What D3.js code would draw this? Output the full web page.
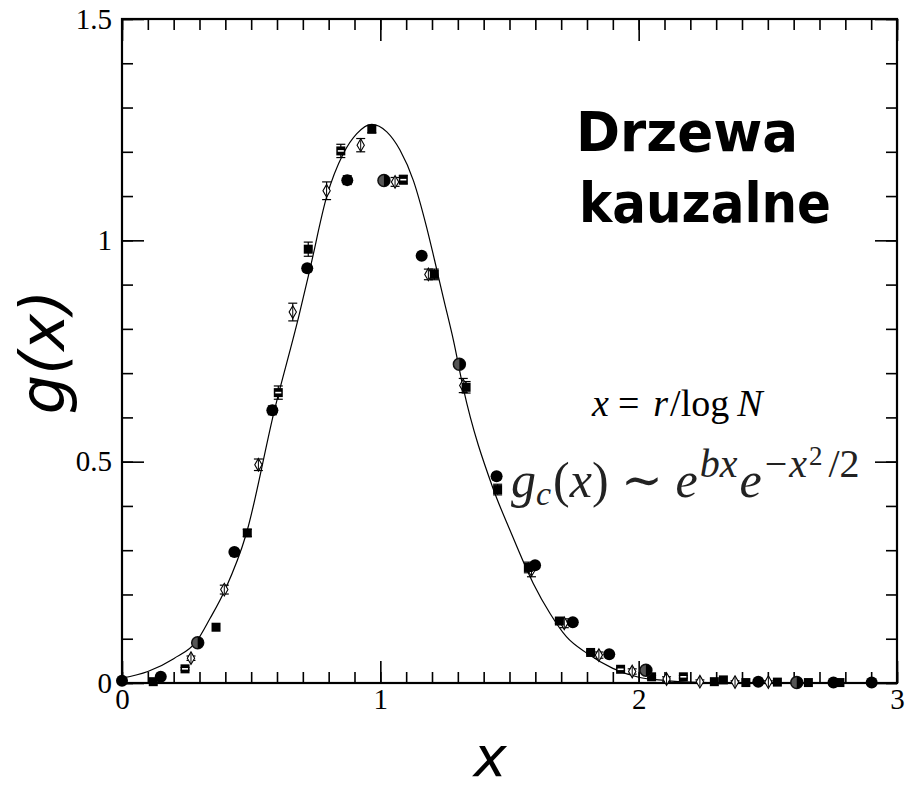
<!DOCTYPE html>
<html>
<head>
<meta charset="utf-8">
<script src="https://cdn.jsdelivr.net/npm/d3@7"></script>
<style>
  html, body { margin: 0; padding: 0; background: #fff; }
  svg { display: block; }
</style>
</head>
<body>
<svg id="chart" width="915" height="790"></svg>
<script>
// Measured distribution g(x) for causal trees, x = r / log N, with the scaling curve.

// Filled circles
const circX = [0.0, 0.15, 0.435, 0.582, 0.717, 0.872, 1.16, 1.45, 1.599, 1.745, 1.886, 2.463, 2.754, 2.902];
const circY = [0.005, 0.014, 0.296, 0.616, 0.937, 1.136, 0.965, 0.467, 0.266, 0.137, 0.065, 0.003, 0.001, 0.001];
const circE = [0, 0, 0.006, 0.01, 0.008, 0.01, 0.006, 0.008, 0.006, 0.004, 0.003, 0, 0, 0];

// Half-shaded circles
const halfX = [0.293, 1.014, 1.306, 2.028, 2.612];
const halfY = [0.091, 1.135, 0.72, 0.029, 0.001];
const halfE = [0.005, 0.006, 0.006, 0.004, 0];

// Filled squares
const sqX = [0.121, 0.364, 0.485, 0.721, 0.967, 1.209, 1.332, 1.454, 1.573, 1.693, 1.814, 2.05, 2.293, 2.328, 2.415, 2.537, 2.657, 2.779];
const sqY = [0.003, 0.126, 0.339, 0.98, 1.251, 0.923, 0.668, 0.437, 0.261, 0.14, 0.069, 0.014, 0.003, 0.007, 0.001, 0.002, 0.001, 0.001];
const sqE = [0, 0, 0.008, 0.016, 0.008, 0.012, 0.013, 0.012, 0.012, 0.005, 0.003, 0.003, 0, 0, 0, 0, 0, 0];

// Squares with a white band
const bandX = [0.244, 0.605, 0.847, 1.089, 1.93, 2.173];
const bandY = [0.032, 0.656, 1.202, 1.137, 0.031, 0.014];
const bandE = [0.003, 0.015, 0.015, 0.01, 0.003, 0.003];

// Open diamonds
const diaX = [0.267, 0.396, 0.528, 0.661, 0.792, 0.924, 1.057, 1.186, 1.321, 1.585, 1.712, 1.846, 1.975, 2.108, 2.237, 2.373, 2.502];
const diaY = [0.056, 0.211, 0.493, 0.838, 1.112, 1.215, 1.132, 0.923, 0.672, 0.255, 0.135, 0.063, 0.026, 0.009, 0.003, 0.002, 0.002];
const diaE = [0.005, 0.01, 0.013, 0.02, 0.02, 0.015, 0.01, 0.012, 0.016, 0.015, 0.01, 0.007, 0.006, 0.005, 0.004, 0.003, 0.003];

// Scaling curve g_c(x)
const curveX = [0.0, 0.1, 0.2, 0.29, 0.34, 0.4, 0.48, 0.59, 0.685, 0.728, 0.792, 0.857, 0.909, 0.967, 1.025, 1.076, 1.128, 1.179, 1.21, 1.244, 1.283, 1.321, 1.436, 1.502, 1.592, 1.657, 1.721, 1.8, 1.9, 2.0, 2.1, 2.2, 2.4, 2.7, 3.0];
const curveY = [0.011, 0.026, 0.055, 0.095, 0.145, 0.212, 0.335, 0.616, 0.83, 0.936, 1.098, 1.196, 1.241, 1.262, 1.245, 1.204, 1.135, 1.03, 0.955, 0.87, 0.774, 0.666, 0.44, 0.345, 0.225, 0.157, 0.104, 0.067, 0.033, 0.013, 0.006, 0.002, 0.0, 0.0, 0.0];

// Tick values
const xMajor = [0, 1, 2, 3];
const yMajor = [0, 0.5, 1, 1.5];
const xMinor = d3.range(0, 31).map(i => i / 10);
const yMinor = d3.range(0, 16).map(i => i / 10);

const svg = d3.select("#chart");
const x = d3.scaleLinear().domain([0, 3]).range([122, 897]);
const y = d3.scaleLinear().domain([0, 1.5]).range([683, 19]);

const serif = "'Liberation Serif', 'DejaVu Serif', serif";
const MAJ = 22, MIN = 11;

function styleAxis(g) {
  g.select(".domain").remove();
  g.selectAll(".tick line").attr("stroke", "#000").attr("stroke-width", 1.6);
  g.selectAll(".tick text").attr("font-family", serif).attr("font-size", 29).attr("fill", "#000");
}

// Minor ticks on all four sides (pointing inward)
svg.append("g").attr("transform", `translate(0,${y(0)})`)
  .call(d3.axisBottom(x).tickValues(xMinor).tickSize(-MIN).tickFormat(""))
  .call(styleAxis);
svg.append("g").attr("transform", `translate(0,${y(1.5)})`)
  .call(d3.axisTop(x).tickValues(xMinor).tickSize(-MIN).tickFormat(""))
  .call(styleAxis);
svg.append("g").attr("transform", `translate(${x(0)},0)`)
  .call(d3.axisLeft(y).tickValues(yMinor).tickSize(-MIN).tickFormat(""))
  .call(styleAxis);
svg.append("g").attr("transform", `translate(${x(3)},0)`)
  .call(d3.axisRight(y).tickValues(yMinor).tickSize(-MIN).tickFormat(""))
  .call(styleAxis);

// Major ticks with labels
svg.append("g").attr("transform", `translate(0,${y(0)})`)
  .call(d3.axisBottom(x).tickValues(xMajor).tickSize(-MAJ).tickPadding(5).tickFormat(d3.format("d")))
  .call(styleAxis);
svg.append("g").attr("transform", `translate(0,${y(1.5)})`)
  .call(d3.axisTop(x).tickValues(xMajor).tickSize(-MAJ).tickFormat(""))
  .call(styleAxis);
svg.append("g").attr("transform", `translate(${x(0)},0)`)
  .call(d3.axisLeft(y).tickValues(yMajor).tickSize(-MAJ).tickPadding(10).tickFormat(d => d % 1 === 0 ? d3.format("d")(d) : d3.format(".1f")(d)))
  .call(styleAxis);
svg.append("g").attr("transform", `translate(${x(3)},0)`)
  .call(d3.axisRight(y).tickValues(yMajor).tickSize(-MAJ).tickFormat(""))
  .call(styleAxis);

// Frame
svg.append("rect")
  .attr("x", x(0)).attr("y", y(1.5))
  .attr("width", x(3) - x(0)).attr("height", y(0) - y(1.5))
  .attr("fill", "none").attr("stroke", "#000").attr("stroke-width", 2.2);

// Curve
const curvePts = curveX.map((v, i) => [v, curveY[i]]);
svg.append("path")
  .datum(curvePts)
  .attr("fill", "none").attr("stroke", "#000").attr("stroke-width", 1.2)
  .attr("d", d3.line().x(d => x(d[0])).y(d => y(d[1])).curve(d3.curveMonotoneX));

// Error bars
function errorBars(xs, ys, es) {
  const data = xs.map((v, i) => ({ x: v, y: ys[i], e: es[i] })).filter(d => d.e > 0);
  const g = svg.append("g").attr("stroke", "#000").attr("stroke-width", 1.2);
  data.forEach(d => {
    const cx = x(d.x), y1 = y(d.y + d.e), y2 = y(d.y - d.e);
    g.append("line").attr("x1", cx).attr("x2", cx).attr("y1", y1).attr("y2", y2);
    g.append("line").attr("x1", cx - 4.5).attr("x2", cx + 4.5).attr("y1", y1).attr("y2", y1);
    g.append("line").attr("x1", cx - 4.5).attr("x2", cx + 4.5).attr("y1", y2).attr("y2", y2);
  });
}
errorBars(diaX, diaY, diaE);
errorBars(sqX, sqY, sqE);
errorBars(bandX, bandY, bandE);
errorBars(circX, circY, circE);
errorBars(halfX, halfY, halfE);

const pts = (xs, ys) => xs.map((v, i) => ({ x: v, y: ys[i] }));

// Open diamonds
svg.append("g").selectAll("path").data(pts(diaX, diaY)).join("path")
  .attr("transform", d => `translate(${x(d.x)},${y(d.y)})`)
  .attr("d", d3.symbol().type(d3.symbolDiamond).size(46))
  .attr("fill", "#fff").attr("stroke", "#000").attr("stroke-width", 1.1);
svg.append("g").selectAll("line").data(pts(diaX, diaY)).join("line")
  .attr("x1", d => x(d.x)).attr("x2", d => x(d.x))
  .attr("y1", d => y(d.y) - 5).attr("y2", d => y(d.y) + 5)
  .attr("stroke", "#000").attr("stroke-width", 1);

// Filled squares
svg.append("g").selectAll("rect").data(pts(sqX, sqY)).join("rect")
  .attr("x", d => x(d.x) - 4.5).attr("y", d => y(d.y) - 4.5)
  .attr("width", 9).attr("height", 9).attr("fill", "#000");

// Banded squares
const band = svg.append("g");
band.selectAll("rect").data(pts(bandX, bandY)).join("rect")
  .attr("x", d => x(d.x) - 4.5).attr("y", d => y(d.y) - 4.5)
  .attr("width", 9).attr("height", 9).attr("fill", "#000");
band.selectAll("line").data(pts(bandX, bandY)).join("line")
  .attr("x1", d => x(d.x) - 3).attr("x2", d => x(d.x) + 3)
  .attr("y1", d => y(d.y)).attr("y2", d => y(d.y))
  .attr("stroke", "#fff").attr("stroke-width", 1.6);

// Half-shaded circles
const half = svg.append("g");
half.selectAll("circle").data(pts(halfX, halfY)).join("circle")
  .attr("cx", d => x(d.x)).attr("cy", d => y(d.y)).attr("r", 6)
  .attr("fill", "#555").attr("stroke", "#111").attr("stroke-width", 1.5);
half.selectAll("path").data(pts(halfX, halfY)).join("path")
  .attr("transform", d => `translate(${x(d.x)},${y(d.y)})`)
  .attr("d", "M0,-6 A6,6 0 0,1 0,6 Z").attr("fill", "#000");

// Filled circles
svg.append("g").selectAll("circle").data(pts(circX, circY)).join("circle")
  .attr("cx", d => x(d.x)).attr("cy", d => y(d.y)).attr("r", 6).attr("fill", "#000");

// Axis titles
const sansIt = "'DejaVu Sans', 'Noto Sans', sans-serif";
svg.append("text").attr("x", 490).attr("y", 776)
  .attr("text-anchor", "middle").attr("font-family", sansIt)
  .attr("font-style", "italic").attr("font-size", 56).text("x");
svg.append("text").attr("transform", "translate(64,352) rotate(-90)")
  .attr("text-anchor", "middle").attr("font-family", sansIt)
  .attr("font-style", "italic").attr("font-size", 62).text("g(x)");

// Title block
const title = svg.append("g").attr("font-family", "'DejaVu Sans', sans-serif")
  .attr("font-weight", "bold").attr("font-size", 56).attr("fill", "#000");
title.append("text").attr("x", 576).attr("y", 151)
  .attr("textLength", 222).attr("lengthAdjust", "spacingAndGlyphs").text("Drzewa");
title.append("text").attr("x", 579).attr("y", 222)
  .attr("textLength", 252).attr("lengthAdjust", "spacingAndGlyphs").text("kauzalne");

// Variable definition
const def = svg.append("text").attr("x", 592).attr("y", 416)
  .attr("font-family", serif).attr("font-size", 38).attr("fill", "#000");
def.append("tspan").attr("font-style", "italic").text("x");
def.append("tspan").attr("dx", 9).text("=");
def.append("tspan").attr("font-style", "italic").attr("dx", 14).text("r");
def.append("tspan").attr("dx", 2).text("/log");
def.append("tspan").attr("font-style", "italic").attr("dx", 8).text("N");

// Scaling form
const f = svg.append("text").attr("x", 511).attr("y", 497)
  .attr("font-family", serif).attr("font-size", 50).attr("fill", "#222");
f.append("tspan").attr("font-style", "italic").text("g");
f.append("tspan").attr("font-style", "italic").attr("font-size", 34).attr("dy", 8).text("c");
f.append("tspan").attr("dy", -8).attr("dx", 2).text("(");
f.append("tspan").attr("font-style", "italic").text("x");
f.append("tspan").text(") ∼ ");
f.append("tspan").attr("font-style", "italic").text("e");
f.append("tspan").attr("font-style", "italic").attr("font-size", 40).attr("dy", -20).attr("dx", 2).text("bx");
f.append("tspan").attr("font-style", "italic").attr("dy", 20).attr("dx", 2).text("e");
f.append("tspan").attr("font-size", 40).attr("dy", -20).attr("dx", 3).text("−");
f.append("tspan").attr("font-style", "italic").attr("font-size", 40).attr("dx", 2).text("x");
f.append("tspan").attr("font-size", 27).attr("dy", -12).attr("dx", 2).text("2");
f.append("tspan").attr("font-size", 40).attr("dy", 12).attr("dx", 6).text("/2");
</script>
</body>
</html>
